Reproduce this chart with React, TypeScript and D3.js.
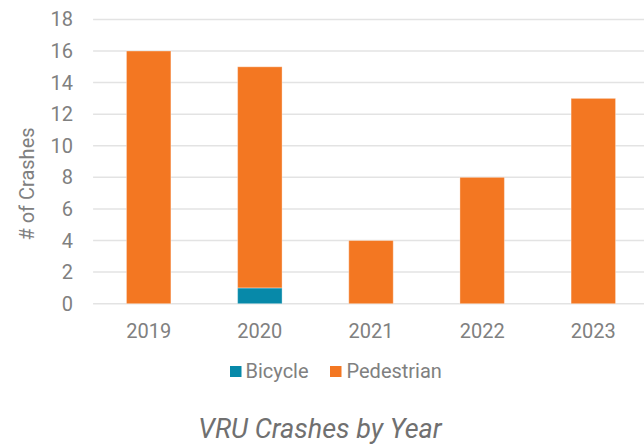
import React from "react";
import * as d3 from "d3";

const years = ["2019", "2020", "2021", "2022", "2023"];
const bicycle = [0, 1, 0, 0, 0];
const pedestrian = [16, 14, 4, 8, 13];
const yTicks = [0, 2, 4, 6, 8, 10, 12, 14, 16, 18];
const seriesNames = ["Bicycle", "Pedestrian"];
const seriesColors = ["#0789A9", "#F37722"];

export default function App() {
  const W = 644, H = 445;
  const x0 = 93.1, x1 = 648.9;
  const yTop = 19.4, yBot = 303.7;
  const x = d3.scaleBand<string>().domain(years).range([x0, x1]).paddingInner(0.6).paddingOuter(0.3);
  const y = d3.scaleLinear().domain([0, 18]).range([yBot, yTop]);
  const rows = years.map((yr, i) => ({ year: yr, Bicycle: bicycle[i], Pedestrian: pedestrian[i] }));
  const stack = d3.stack<any>().keys(seriesNames)(rows);
  const font = "Roboto, sans-serif";
  return (
    <svg width={W} height={H} style={{ position: "absolute", left: 0, top: 0 }}>
      <rect width={W} height={H} fill="#fff" />
      {yTicks.map((t) => (
        <g key={t}>
          <line x1={x0} x2={W} y1={y(t)} y2={y(t)} stroke="#e3e3e3" strokeWidth={1.5} />
          <text x={73} y={y(t)} dy="0.35em" textAnchor="end" fontFamily={font} fontSize={20} fill="#808080">{t}</text>
        </g>
      ))}
      {stack.map((s, si) => (
        <g key={si}>
          {s.map((d, i) => d[1] - d[0] > 0 ? (
            <rect key={i} x={x(years[i])} width={x.bandwidth()} y={y(d[1])} height={y(d[0]) - y(d[1])}
              fill={seriesColors[si]} stroke="rgba(255,255,255,0.35)" strokeWidth={1} />
          ) : null)}
        </g>
      ))}
      {years.map((yr) => (
        <text key={yr} x={(x(yr) as number) + x.bandwidth() / 2} y={338} textAnchor="middle" fontFamily={font} fontSize={20} fill="#808080">{yr}</text>
      ))}
      <text transform={`translate(34,184) rotate(-90)`} textAnchor="middle" fontFamily={font} fontSize={20} fill="#808080"># of Crashes</text>
      <rect x={230} y={366} width={11.5} height={11} fill={seriesColors[0]} />
      <text x={245.5} y={378} fontFamily={font} fontSize={20} fill="#808080">Bicycle</text>
      <rect x={330} y={366} width={11.5} height={11} fill={seriesColors[1]} />
      <text x={346.5} y={378} fontFamily={font} fontSize={20} fill="#808080">Pedestrian</text>
      <text x={320} y={437.5} textAnchor="middle" fontFamily={font} fontStyle="italic" fontSize={27} fill="#707070">VRU Crashes by Year</text>
    </svg>
  );
}
